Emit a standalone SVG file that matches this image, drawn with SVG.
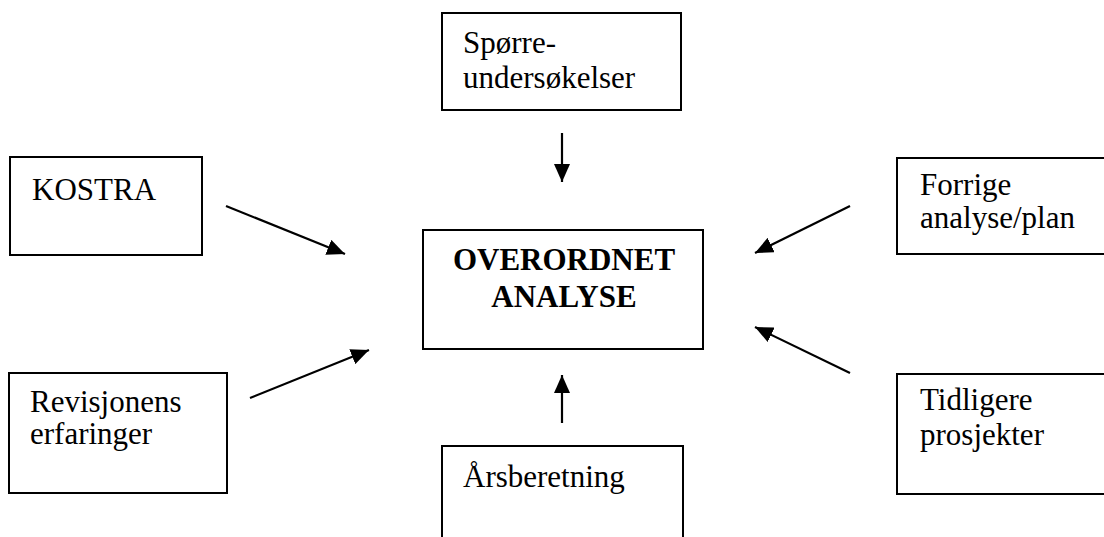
<svg xmlns="http://www.w3.org/2000/svg" width="1104" height="537" viewBox="0 0 1104 537">
<style>
.box{fill:#fff;stroke:#000;stroke-width:2}
.t{font-family:"Liberation Serif","Times New Roman",serif;font-size:31px;fill:#000}
.b{font-weight:bold;text-anchor:middle}
.c{stroke:#000;stroke-width:2.2;fill:none;marker-end:url(#ah)}
</style>
<defs>
<marker id="ah" markerUnits="userSpaceOnUse" markerWidth="20" markerHeight="16" refX="18" refY="8" orient="auto">
<path d="M0,0 L18,8 L0,16 Z" fill="#000"/>
</marker>
</defs>
<rect width="1104" height="537" fill="#fff"/>
<g id="sporre">
<rect class="box" x="442" y="13" width="239" height="97"/>
<text class="t" x="463" y="53">Spørre-</text>
<text class="t" x="463" y="88">undersøkelser</text>
</g>
<g id="kostra">
<rect class="box" x="10" y="157" width="192" height="98"/>
<text class="t" x="32" y="200">KOSTRA</text>
</g>
<g id="forrige">
<rect class="box" x="897" y="158" width="210" height="96"/>
<text class="t" x="920" y="195">Forrige</text>
<text class="t" x="920" y="228">analyse/plan</text>
</g>
<g id="overordnet">
<rect class="box" x="423" y="230" width="280" height="119"/>
<text class="t b" x="564" y="270">OVERORDNET</text>
<text class="t b" x="564" y="307">ANALYSE</text>
</g>
<g id="revisjonens">
<rect class="box" x="9" y="373" width="218" height="120"/>
<text class="t" x="30" y="412">Revisjonens</text>
<text class="t" x="30" y="444">erfaringer</text>
</g>
<g id="tidligere">
<rect class="box" x="897" y="374" width="210" height="120"/>
<text class="t" x="920" y="410">Tidligere</text>
<text class="t" x="920" y="445">prosjekter</text>
</g>
<g id="arsberetning">
<rect class="box" x="442" y="446" width="241" height="100"/>
<text class="t" x="463" y="487">Årsberetning</text>
</g>
<g id="connectors">
<line class="c" x1="562" y1="133" x2="562" y2="182"/>
<line class="c" x1="226" y1="206" x2="345" y2="254"/>
<line class="c" x1="850" y1="206" x2="755" y2="253"/>
<line class="c" x1="250" y1="398" x2="369" y2="350"/>
<line class="c" x1="850" y1="373" x2="755" y2="327"/>
<line class="c" x1="562" y1="423" x2="562" y2="375"/>
</g>
</svg>
